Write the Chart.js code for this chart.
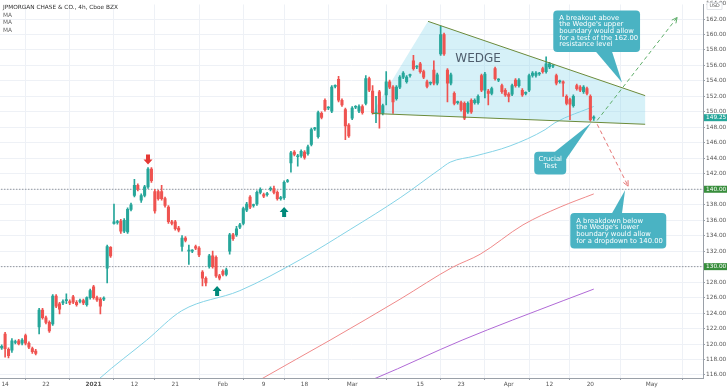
<!DOCTYPE html>
<html>
<head>
<meta charset="utf-8">
<script src="https://cdn.jsdelivr.net/npm/chart.js@4.4.1/dist/chart.umd.min.js"></script>
<style>
  html, body { margin: 0; padding: 0; background: #fff; }
</style>
</head>
<body>
<canvas id="chart" width="728" height="391"></canvas>
<script>
// 4h candles, JPM Dec 2020 - Apr 2021
const opens = [
  119.5, 121.3, 119.3, 119.2, 120.2, 120.4, 120.1, 121.1, 120.1, 119.4,
  119.1, 122.2, 124.4, 123.4, 122.8, 122.6, 126.2, 125.2, 125.3, 125.6,
  125.5, 126.1, 125.4, 125.5, 125.6, 125.1, 126.0, 127.4, 126.0, 125.8,
  125.8, 129.8, 132.5, 135.6, 135.7, 135.9, 134.6, 134.5, 137.4, 139.2,
  140.5, 138.6, 139.2, 140.3, 142.6, 139.7, 139.7, 139.7, 138.8, 137.7,
  135.8, 135.8, 135.0, 132.6, 133.7, 132.0, 132.0, 132.6, 132.4, 129.3,
  128.5, 130.0, 131.4, 131.2, 128.8, 129.4, 129.0, 132.0, 134.1, 134.1,
  135.1, 135.6, 137.3, 139.0, 137.9, 138.1, 139.6, 139.3, 139.3, 140.0,
  140.1, 139.6, 138.8, 138.9, 141.0, 143.4, 144.8, 144.2, 144.3, 144.8,
  144.6, 145.8, 147.8, 146.8, 149.8, 151.5, 150.5, 150.1, 153.3, 154.2,
  151.5, 150.3, 148.3, 149.2, 150.6, 150.1, 150.7, 151.1, 154.3, 152.7,
  149.8, 152.6, 149.8, 152.2, 153.9, 153.2, 151.7, 153.2, 154.5, 153.9,
  154.7, 156.6, 155.8, 156.2, 155.2, 153.9, 153.7, 155.4, 153.7, 157.5,
  160.0, 155.4, 153.7, 152.4, 151.2, 151.2, 151.1, 150.0, 151.5, 151.2,
  151.2, 154.7, 152.8, 152.7, 152.4, 155.6, 154.1, 153.4, 152.8, 152.3,
  152.3, 154.1, 153.4, 152.8, 152.4, 152.8, 154.7, 154.7, 154.9, 155.6,
  155.2, 155.8, 155.9, 154.7, 153.9, 153.9, 152.0, 151.6, 150.8, 153.4,
  153.2, 152.6, 153.0, 152.0, 149.2
];
const highs = [
  119.9, 121.5, 119.5, 120.7, 120.5, 120.6, 120.7, 121.3, 120.3, 119.6,
  119.3, 124.6, 124.6, 123.6, 123.0, 126.4, 126.4, 125.4, 125.7, 126.5,
  125.7, 126.3, 125.6, 125.8, 125.8, 126.1, 127.1, 127.6, 126.2, 126.0,
  126.1, 132.8, 132.6, 138.1, 136.0, 136.1, 136.2, 137.6, 138.2, 141.3,
  140.7, 139.4, 140.5, 142.8, 142.8, 140.0, 139.9, 140.5, 139.0, 137.9,
  136.0, 136.0, 135.2, 134.0, 133.9, 132.8, 132.2, 132.8, 132.6, 129.5,
  128.7, 131.6, 132.0, 131.4, 129.0, 129.6, 129.8, 134.3, 134.3, 135.2,
  135.6, 137.7, 138.3, 139.2, 138.1, 139.8, 140.2, 139.5, 139.6, 140.3,
  140.4, 139.8, 139.1, 141.1, 141.3, 144.9, 145.0, 144.5, 145.1, 145.0,
  145.7, 147.9, 148.0, 150.1, 150.0, 151.7, 150.7, 153.4, 153.5, 154.6,
  151.7, 150.5, 148.5, 150.7, 150.8, 150.9, 150.9, 154.7, 154.5, 153.4,
  152.0, 152.8, 151.0, 155.2, 154.1, 153.4, 153.4, 154.7, 155.2, 154.7,
  154.9, 157.3, 156.0, 156.4, 155.4, 154.1, 153.9, 156.6, 155.0, 161.1,
  160.2, 155.6, 155.0, 152.6, 151.4, 151.4, 151.3, 151.3, 151.7, 151.7,
  152.2, 154.9, 155.1, 152.9, 153.2, 155.8, 154.3, 153.6, 153.0, 152.5,
  153.6, 154.3, 154.3, 153.0, 152.6, 154.9, 155.2, 155.2, 155.1, 155.8,
  157.1, 156.4, 156.1, 154.9, 154.1, 154.0, 152.2, 151.8, 152.2, 153.6,
  153.4, 153.4, 153.2, 152.2, 149.5
];
const lows = [
  119.3, 118.3, 118.2, 118.9, 120.0, 119.9, 119.9, 119.9, 119.4, 118.8,
  118.6, 121.3, 123.2, 122.6, 121.5, 122.4, 124.7, 123.9, 125.1, 125.2,
  125.1, 125.2, 124.9, 125.3, 125.1, 124.9, 125.8, 125.8, 125.5, 123.9,
  125.6, 127.9, 131.2, 135.5, 135.5, 134.3, 134.4, 134.3, 137.2, 139.0,
  139.8, 138.3, 139.0, 140.1, 140.9, 136.9, 138.6, 138.6, 137.7, 135.6,
  135.4, 134.7, 134.5, 132.0, 133.2, 130.3, 131.8, 132.2, 131.3, 127.5,
  127.5, 129.8, 129.8, 128.6, 128.3, 128.8, 128.8, 131.6, 133.4, 133.9,
  134.9, 135.4, 137.1, 137.5, 137.7, 137.9, 139.4, 138.9, 139.1, 139.8,
  139.4, 138.6, 138.6, 138.7, 140.9, 142.2, 144.3, 143.0, 144.1, 143.9,
  144.4, 145.6, 147.6, 146.6, 149.1, 150.1, 150.3, 149.9, 153.1, 151.3,
  150.7, 146.4, 146.7, 149.0, 150.4, 149.9, 149.7, 150.9, 152.6, 149.7,
  148.6, 147.9, 149.6, 150.9, 153.0, 149.8, 151.5, 153.0, 154.3, 153.7,
  154.5, 155.4, 155.6, 155.0, 154.3, 153.1, 153.5, 153.5, 153.5, 157.3,
  157.3, 151.3, 153.5, 150.9, 151.0, 150.1, 149.0, 149.8, 149.8, 151.0,
  151.0, 152.6, 151.8, 150.9, 152.2, 154.1, 153.9, 152.4, 152.0, 151.3,
  152.1, 153.2, 153.2, 152.0, 152.2, 152.6, 154.5, 154.5, 154.7, 155.0,
  155.0, 155.6, 155.7, 153.5, 153.7, 152.0, 150.9, 149.0, 150.6, 152.8,
  152.6, 152.4, 152.2, 148.8, 148.9
];
const closes = [
  119.7, 119.4, 118.5, 120.4, 120.3, 120.0, 120.5, 120.1, 119.6, 119.0,
  118.8, 124.4, 123.4, 122.8, 121.7, 126.2, 124.9, 124.5, 125.5, 125.6,
  125.3, 125.4, 125.1, 125.6, 125.3, 126.0, 126.9, 126.0, 125.7, 124.9,
  125.9, 132.6, 131.4, 135.8, 135.8, 134.6, 136.0, 137.4, 138.0, 140.5,
  140.0, 139.2, 140.3, 142.6, 141.1, 137.2, 138.8, 138.8, 137.9, 135.8,
  135.6, 134.9, 134.7, 133.7, 133.4, 132.1, 132.0, 132.4, 131.5, 128.5,
  127.9, 131.4, 130.0, 128.8, 128.5, 129.0, 129.6, 134.1, 133.6, 134.9,
  135.4, 137.5, 138.1, 137.7, 138.0, 139.6, 140.0, 139.1, 139.4, 140.0,
  139.6, 138.8, 138.9, 140.9, 141.1, 144.7, 144.5, 144.3, 144.9, 144.1,
  145.5, 147.7, 147.9, 149.9, 149.3, 150.3, 150.5, 153.2, 153.3, 151.5,
  150.9, 148.2, 146.9, 150.5, 150.6, 150.7, 149.9, 154.3, 152.8, 149.9,
  149.8, 149.8, 150.8, 153.9, 153.2, 151.3, 153.2, 154.5, 155.0, 154.5,
  154.7, 155.6, 155.8, 155.2, 154.5, 153.3, 153.7, 153.7, 154.8, 160.0,
  157.5, 153.7, 154.8, 151.1, 151.2, 150.3, 149.2, 151.1, 150.0, 151.5,
  152.0, 152.8, 154.9, 152.4, 153.0, 154.3, 154.1, 152.6, 152.2, 152.0,
  153.4, 153.4, 154.1, 152.2, 152.4, 154.7, 155.0, 155.0, 154.9, 155.2,
  156.2, 156.2, 155.9, 153.7, 153.9, 153.7, 151.1, 151.0, 152.0, 153.0,
  152.8, 153.2, 152.4, 149.0, 149.25
];

// bottom axis: bar index of each date label
const tickIdx = [1, 13, 27, 39, 51, 65, 77, 89, 103, 123, 135, 149, 161, 173, 191];
const tickLabels = ['14', '22', '2021', '12', '21', 'Feb', '9', '18', 'Mar', '15', '23', 'Apr', '12', '20', 'May'];
const priceTicks = [116, 118, 120, 122, 124, 126, 128, 130, 132, 134, 136, 138, 140,
  142, 144, 146, 148, 150, 152, 154, 156, 158, 160, 162];

// moving averages, read at a few bars
const maFastX = [25.4, 28.9, 42.6, 52.9, 70.0, 87.7, 102.4, 117.1, 128.8, 131.8, 139.1, 149.4, 159.7, 162.6, 174];
const maFastY = [114.1, 115.6, 120.5, 124.3, 126.9, 130.9, 134.8, 138.9, 142.6, 143.5, 144.3, 145.6, 147.7, 148.6, 150.7];
const maMidX = [73, 76.8, 96.5, 117.1, 132.4, 140.6, 153.2, 164.1, 174];
const maMidY = [114.6, 115.6, 120.5, 125.8, 129.9, 131.6, 135.4, 137.7, 139.4];
const maSlowX = [105.3, 110.0, 135.3, 165.0, 174];
const maSlowY = [114.8, 115.6, 120.5, 125.6, 127.1];

// wedge & projections
const wedgeUpperX = [125.3, 189.1];
const wedgeUpperY = [161.7, 152.1];
const wedgeLowerX = [108.8, 189.1];
const wedgeLowerY = [149.8, 148.4];
const upArrowX = [175, 198.5];
const upArrowY = [148.9, 162.2];
const downArrowX = [175, 184.1];
const downArrowY = [148.4, 140.4];
const levels = [140, 130];
const lastPrice = 149.25;

const UP = '#26a69a';
const DOWN = '#ef5350';
const CALLOUT = '#4ab3c3';
const GRID = '#eef1f6';

const pts = (xs, ys) => xs.map((x, i) => ({ x: x, y: ys[i] }));
const candleColors = closes.map((c, i) => c >= opens[i] ? UP : DOWN);

const wedgeShape = [
  { x: wedgeLowerX[0], y: wedgeLowerY[0] },
  { x: wedgeUpperX[0], y: wedgeUpperY[0] },
  { x: wedgeUpperX[1], y: wedgeUpperY[1] },
  { x: wedgeLowerX[1], y: wedgeLowerY[1] },
  { x: wedgeLowerX[0], y: wedgeLowerY[0] }
];

const callouts = [
  { x0: 162.1, x1: 187.6, y0: 163.1, y1: 157.75, center: false,
    base: [[174.7, 157.75], [179.4, 157.75]], tip: [182.3, 153.8],
    lines: ['A breakout above', "the Wedge's upper", 'boundary would allow',
      'for a test of the 162.00', 'resistance level'] },
  { x0: 156.5, x1: 165.9, y0: 144.85, y1: 141.92, center: true,
    base: [[162.6, 144.85], [165.9, 143.9]], tip: [173.2, 148.56],
    lines: ['Crucial', 'Test'] },
  { x0: 167.1, x1: 195.3, y0: 136.93, y1: 132.34, center: false,
    base: [[179.4, 136.93], [182.3, 136.93]], tip: [183.2, 139.87],
    lines: ['A breakdown below', "the Wedge's lower",
      'boundary would allow', 'for a dropdown to 140.00'] }
];

const markers = [
  { x: 43, y: 143.2, dir: 'down', color: '#e53935' },
  { x: 63.3, y: 127.5, dir: 'up', color: '#00897b' },
  { x: 83, y: 137.7, dir: 'up', color: '#00897b' }
];

function arrowHead(ctx, x1, y1, x2, y2, color) {
  const a = Math.atan2(y2 - y1, x2 - x1);
  ctx.save();
  ctx.strokeStyle = color;
  ctx.lineWidth = 1;
  ctx.beginPath();
  ctx.moveTo(x2 - 6 * Math.cos(a - 0.45), y2 - 6 * Math.sin(a - 0.45));
  ctx.lineTo(x2, y2);
  ctx.lineTo(x2 - 6 * Math.cos(a + 0.45), y2 - 6 * Math.sin(a + 0.45));
  ctx.stroke();
  ctx.restore();
}

const overlay = {
  id: 'overlay',
  afterDraw(chart) {
    const ctx = chart.ctx;
    const xs = chart.scales.x, ys = chart.scales.y;
    const px = v => xs.getPixelForValue(v);
    const py = v => ys.getPixelForValue(v);
    const area = chart.chartArea;

    ctx.save();
    ctx.beginPath();
    ctx.rect(area.left, area.top, area.right - area.left, area.bottom - area.top);
    ctx.clip();

    // wedge label
    ctx.fillStyle = '#4f5d6c';
    ctx.font = '12px "DejaVu Sans"';
    ctx.textAlign = 'center';
    ctx.textBaseline = 'middle';
    ctx.fillText('WEDGE', px(140), py(156.9));

    // arrow heads
    arrowHead(ctx, px(upArrowX[0]), py(upArrowY[0]), px(upArrowX[1]), py(upArrowY[1]), '#5fae6a');
    arrowHead(ctx, px(downArrowX[0]), py(downArrowY[0]), px(downArrowX[1]), py(downArrowY[1]), '#e57373');

    // block markers
    markers.forEach(m => {
      const x = px(m.x), y = py(m.y);
      const s = m.dir === 'down' ? -1 : 1;
      ctx.fillStyle = m.color;
      ctx.beginPath();
      ctx.moveTo(x, y);
      ctx.lineTo(x + 4.5, y + s * 5);
      ctx.lineTo(x + 2, y + s * 5);
      ctx.lineTo(x + 2, y + s * 10);
      ctx.lineTo(x - 2, y + s * 10);
      ctx.lineTo(x - 2, y + s * 5);
      ctx.lineTo(x - 4.5, y + s * 5);
      ctx.closePath();
      ctx.fill();
    });

    // callouts
    callouts.forEach(c => {
      const x0 = px(c.x0), x1 = px(c.x1), y0 = py(c.y0), y1 = py(c.y1);
      ctx.fillStyle = CALLOUT;
      ctx.beginPath();
      ctx.roundRect(x0, y0, x1 - x0, y1 - y0, 4);
      ctx.fill();
      ctx.beginPath();
      ctx.moveTo(px(c.base[0][0]), py(c.base[0][1]));
      ctx.lineTo(px(c.tip[0]), py(c.tip[1]));
      ctx.lineTo(px(c.base[1][0]), py(c.base[1][1]));
      ctx.closePath();
      ctx.fill();
      ctx.fillStyle = '#fff';
      ctx.font = '6.8px "DejaVu Sans"';
      ctx.textBaseline = 'middle';
      const lh = 6.7;
      const top = (y0 + y1) / 2 - (c.lines.length - 1) * lh / 2;
      c.lines.forEach((t, i) => {
        if (c.center) {
          ctx.textAlign = 'center';
          ctx.fillText(t, (x0 + x1) / 2, top + i * lh);
        } else {
          ctx.textAlign = 'left';
          ctx.fillText(t, x0 + 6, top + i * lh);
        }
      });
    });

    // legend
    ctx.textAlign = 'left';
    ctx.textBaseline = 'middle';
    ctx.font = '5.8px "DejaVu Sans"';
    ctx.fillStyle = '#333';
    ctx.fillText('JPMORGAN CHASE & CO., 4h, Cboe BZX', 3, 7);
    ctx.fillStyle = '#666';
    ctx.fillText('MA', 3, 15);
    ctx.fillText('MA', 3, 22.5);
    ctx.fillText('MA', 3, 30);
    ctx.restore();

    // price tags on the right axis
    ctx.save();
    ctx.font = '5.8px "DejaVu Sans"';
    ctx.textBaseline = 'middle';
    ctx.textAlign = 'left';
    const tag = (v, bg) => {
      const y = py(v);
      ctx.fillStyle = bg;
      ctx.fillRect(area.right + 1, y - 3.5, 23, 7);
      ctx.fillStyle = '#fff';
      ctx.fillText(v.toFixed(2), area.right + 3, y);
    };
    tag(lastPrice, UP);
    levels.forEach(v => tag(v, '#388e3c'));

    ctx.fillStyle = '#555';
    ctx.fillText('164.00', area.right + 3, py(164));
    ctx.fillStyle = '#fff';
    ctx.fillRect(area.right + 4, 2.5, 15, 7);
    ctx.strokeStyle = '#d0d4da';
    ctx.lineWidth = 0.6;
    ctx.strokeRect(area.right + 4, 2.5, 15, 7);
    ctx.fillStyle = '#555';
    ctx.font = '4.8px "DejaVu Sans"';
    ctx.textAlign = 'center';
    ctx.fillText('USD', area.right + 11.5, 6.2);
    ctx.restore();
  }
};

const lineDs = (data, color, extra) => Object.assign({
  type: 'line', data: data, borderColor: color, borderWidth: 1,
  pointRadius: 0, fill: false, order: 5
}, extra || {});

new Chart(document.getElementById('chart'), {
  type: 'bar',
  data: {
    datasets: [
      lineDs(wedgeShape, 'rgba(0,0,0,0)', {
        fill: 'shape', backgroundColor: 'rgba(120,210,232,0.3)', borderWidth: 0, order: 10
      }),
      lineDs(pts(maFastX, maFastY), '#85d3e6', { cubicInterpolationMode: 'monotone' }),
      lineDs(pts(maMidX, maMidY), '#ef8a8a', { cubicInterpolationMode: 'monotone' }),
      lineDs(pts(maSlowX, maSlowY), '#b06ad6', { cubicInterpolationMode: 'monotone' }),
      lineDs(pts([-1, 210], [levels[0], levels[0]]), '#6b6f75', { borderDash: [1, 2], order: 6 }),
      lineDs(pts([-1, 210], [levels[1], levels[1]]), '#6b6f75', { borderDash: [1, 2], order: 6 }),
      lineDs(pts(wedgeUpperX, wedgeUpperY), '#6b8a3a', { order: 0 }),
      lineDs(pts(wedgeLowerX, wedgeLowerY), '#6b8a3a', { order: 0 }),
      lineDs(pts(upArrowX, upArrowY), '#5fae6a', { borderDash: [4, 3], order: 0 }),
      lineDs(pts(downArrowX, downArrowY), '#e57373', { borderDash: [4, 3], order: 0 }),
      {
        type: 'bar',
        data: lows.map((l, i) => ({ x: i, y: [l, highs[i]] })),
        backgroundColor: candleColors,
        barThickness: 1,
        grouped: false,
        order: 2
      },
      {
        type: 'bar',
        data: opens.map((o, i) => ({ x: i, y: [o, closes[i]] })),
        backgroundColor: candleColors,
        barThickness: 2.4,
        minBarLength: 1,
        grouped: false,
        order: 1
      }
    ]
  },
  options: {
    responsive: false,
    animation: false,
    layout: { padding: 0 },
    plugins: {
      legend: { display: false },
      tooltip: { enabled: false }
    },
    scales: {
      x: {
        type: 'linear',
        min: -0.5,
        max: 206.1,
        offset: false,
        grid: { color: GRID, tickLength: 2, tickColor: '#9aa0a8' },
        border: { color: '#9aa0a8' },
        afterBuildTicks: s => { s.ticks = tickIdx.map(v => ({ value: v })); },
        afterFit: s => { s.height = 13; },
        ticks: {
          autoSkip: false,
          maxRotation: 0,
          padding: 1,
          color: '#555',
          font: ctx => ({
            family: 'DejaVu Sans', size: 5.8,
            weight: ctx.tick && ctx.tick.label === '2021' ? 'bold' : 'normal'
          }),
          callback: (val, idx) => tickLabels[idx]
        }
      },
      y: {
        type: 'linear',
        position: 'right',
        min: 115.61,
        max: 163.88,
        grid: { color: GRID, tickLength: 2, tickColor: '#9aa0a8' },
        border: { color: '#9aa0a8' },
        afterBuildTicks: s => { s.ticks = priceTicks.map(v => ({ value: v })); },
        afterFit: s => { s.width = 25; },
        ticks: {
          padding: 1,
          color: '#555',
          font: { family: 'DejaVu Sans', size: 5.8 },
          callback: v => v.toFixed(2)
        }
      }
    }
  },
  plugins: [overlay]
});
</script>
</body>
</html>
